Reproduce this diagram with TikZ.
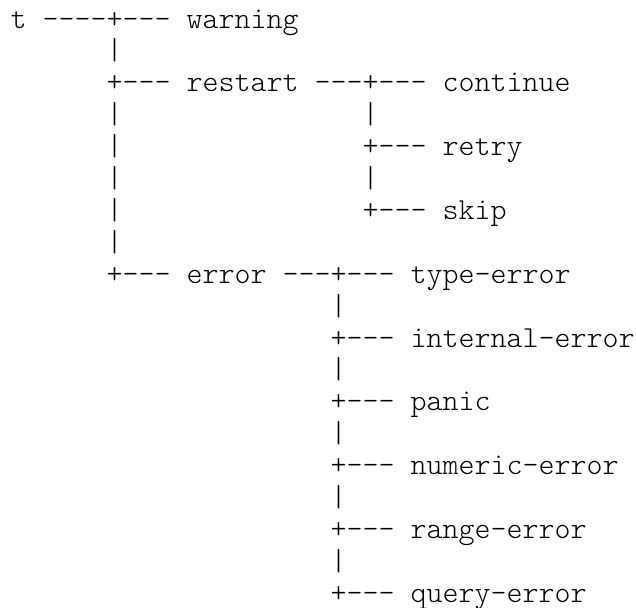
\documentclass[tikz,border=0pt]{standalone}
\usepackage{fontspec}
\setmonofont{Latin Modern Mono Light}
\usepackage{tikz}

\begin{document}
\begin{tikzpicture}[x=8pt,y=-15.95pt,
    txt/.style={anchor=base west,inner sep=0pt,text=black,
        font=\ttfamily\fontsize{15.24}{18}\selectfont}]
    \useasboundingbox (-0.644,-0.878) rectangle (39.106,18.18);
    % Root
    \node[txt] (t) at (0,0) {t};
    \node[txt] (t-line) at (2,0) {----+---};
    \node[txt] (warning) at (11,0) {warning};
    % Trunk below the root
    \foreach \r in {1,3,4,5,6,7}
        \node[txt] (trunk-\r) at (6,\r) {|};
    \node[txt] (restart-plus) at (6,2) {+---};
    \node[txt] (restart) at (11,2) {restart};
    \node[txt] (restart-line) at (19,2) {---+---};
    \node[txt] (continue) at (27,2) {continue};
    \node[txt] (error-plus) at (6,8) {+---};
    \node[txt] (error) at (11,8) {error};
    \node[txt] (error-line) at (17,8) {---+---};
    \node[txt] (type-error) at (25,8) {type-error};
    % Children of restart
    \foreach \r in {3,5}
        \node[txt] (restart-bar-\r) at (22,\r) {|};
    \foreach \r/\name in {4/retry,6/skip} {
        \node[txt] (\name-plus) at (22,\r) {+---};
        \node[txt] (\name) at (27,\r) {\name};
    }
    % Children of error
    \foreach \r/\name in {10/internal-error,12/panic,14/numeric-error,
                          16/range-error,18/query-error} {
        \node[txt] (\name-bar) at (20,\r-1) {|};
        \node[txt] (\name-plus) at (20,\r) {+---};
        \node[txt] (\name) at (25,\r) {\name};
    }
\end{tikzpicture}
\end{document}
